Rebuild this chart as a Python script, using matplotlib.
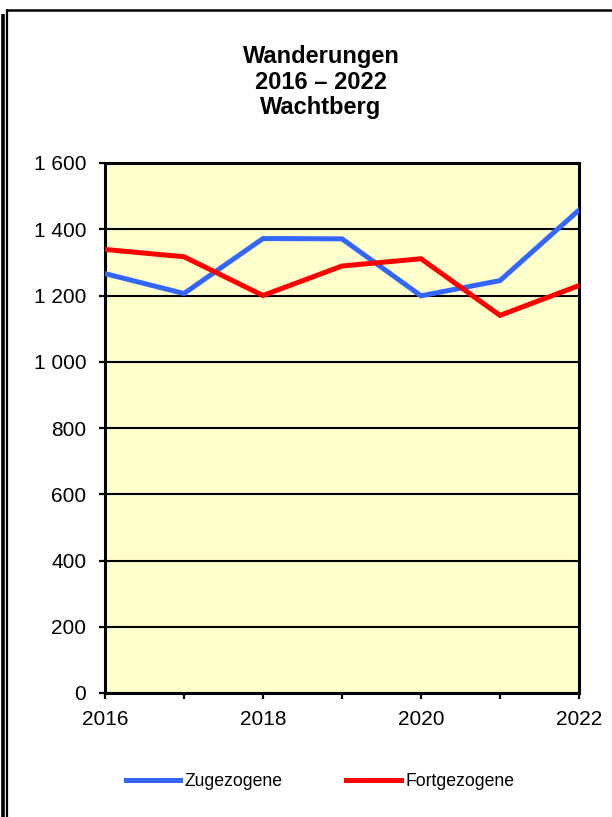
import matplotlib
matplotlib.use("Agg")
import matplotlib.pyplot as plt
from matplotlib.lines import Line2D
from matplotlib.ticker import FuncFormatter, MultipleLocator

plt.rcParams['font.family'] = ['Liberation Sans', 'DejaVu Sans']

years = [2016, 2017, 2018, 2019, 2020, 2021, 2022]
zugezogene = [1266, 1206, 1372, 1371, 1199, 1245, 1458]
fortgezogene = [1339, 1317, 1200, 1289, 1311, 1140, 1230]

W, H = 612, 817
fig = plt.figure(figsize=(W / 100, H / 100), dpi=100)
ax = fig.add_axes([105 / W, (H - 693) / H, (579 - 105) / W, (693 - 163) / H])
ax.set_facecolor('#FFFFCC')

ax.plot(years, zugezogene, color='#3366FF', lw=3.6, solid_joinstyle='miter', label='Zugezogene', zorder=3)
ax.plot(years, fortgezogene, color='#FF0000', lw=3.6, solid_joinstyle='miter', label='Fortgezogene', zorder=3)

ax.set_xlim(2016, 2022)
ax.set_ylim(0, 1600)
ax.yaxis.set_major_locator(MultipleLocator(200))
ax.yaxis.set_major_formatter(FuncFormatter(lambda v, p: f"{int(v):,}".replace(",", " ")))
ax.set_xticks(years)
ax.set_xticklabels([str(y) if y % 2 == 0 else '' for y in years])
ax.grid(axis='y', color='black', lw=1.5, zorder=1)
for s in ax.spines.values():
    s.set_linewidth(2.2)
    s.set_color('black')
ax.tick_params(axis='both', direction='out', length=4.5, width=1.6, labelsize=15, colors='black')
ax.tick_params(axis='y', pad=9)
ax.tick_params(axis='x', pad=8)

# title
for txt, yb in [('Wanderungen', 63), ('2016 – 2022', 89), ('Wachtberg', 114)]:
    fig.text(321 / W, 1 - yb / H, txt, ha='center', va='baseline', fontsize=17, fontweight='bold')

fig.legend(loc='center', bbox_to_anchor=(320 / W, 1 - 782 / H), ncol=2, frameon=False,
           fontsize=12.7, handlelength=3.1, handletextpad=0.25, columnspacing=3.6)

# frame lines
def px_line(x0, y0, x1, y1, lw):
    fig.add_artist(Line2D([x0 / W, x1 / W], [1 - y0 / H, 1 - y1 / H], color='black', lw=lw,
                          transform=fig.transFigure, solid_capstyle='butt'))

px_line(6, 9.5, W, 9.5, 1.8)
px_line(6.5, 9, 6.5, H, 1.6)
px_line(2.5, 14, 2.5, H, 2.6)

fig.savefig('out.png', dpi=100)
